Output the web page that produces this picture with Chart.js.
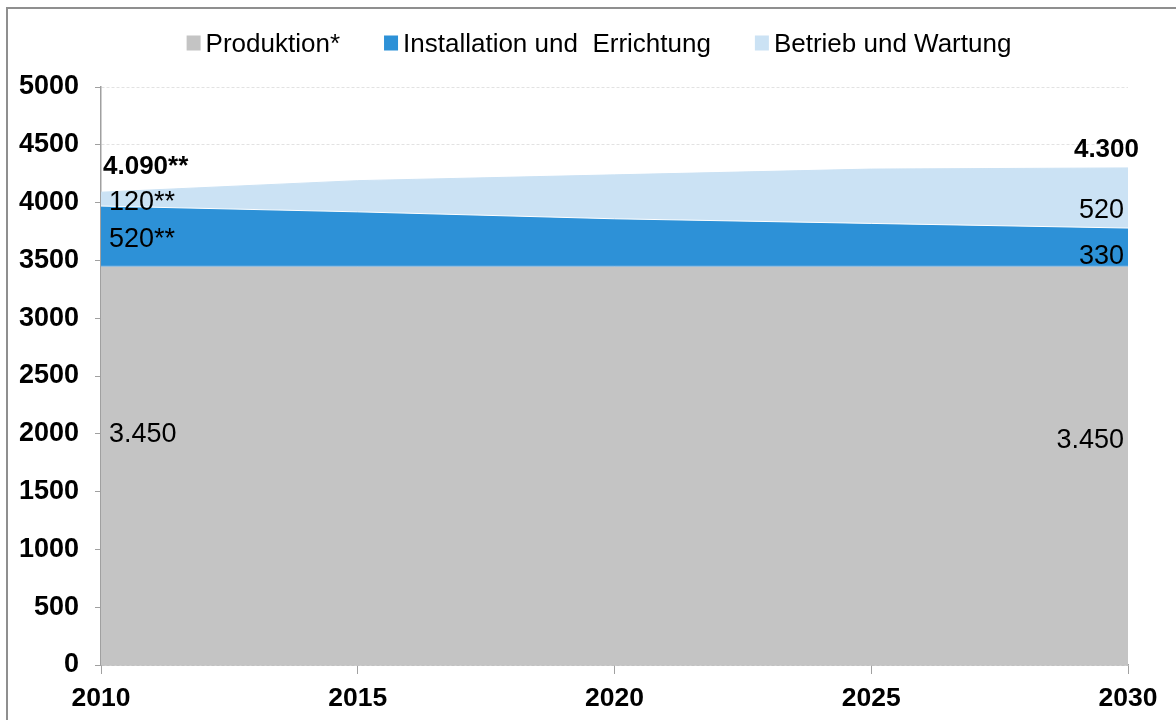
<!DOCTYPE html>
<html lang="de">
<head>
<meta charset="utf-8">
<title>Beschäftigung 2010–2030</title>
<script src="https://cdn.jsdelivr.net/npm/chart.js@4.4.1/dist/chart.umd.min.js"></script>
<style>
  html, body { margin: 0; padding: 0; background: #fff; }
  #wrap { width: 1176px; height: 720px; }
</style>
</head>
<body>
<div id="wrap"><canvas id="chart" width="1176" height="720"></canvas></div>
<script>
// ── Data ───────────────────────────────────────────────────────────────────
const YEARS        = ["2010", "2015", "2020", "2025", "2030"];
const PRODUKTION   = [3450, 3450, 3450, 3450, 3450];
const INSTALLATION = [520, 470, 410, 370, 330];
const BETRIEB      = [120, 270, 380, 470, 520];
const SERIES_NAMES = ["Produktion*", "Installation und  Errichtung", "Betrieb und Wartung"];
const FOOTNOTE     = ["**", "", "", "", ""];   // suffix per year on the value labels
const LABELLED     = [0, 4];                   // year indices that carry value labels
const Y_MIN = 0, Y_MAX = 5000, Y_STEP = 500;

// ── Style ──────────────────────────────────────────────────────────────────
const FONT = "'Liberation Sans', Arial, Helvetica, sans-serif";
const COLORS = ["#c4c4c4", "#2d91d7", "#cbe2f4"];
const EDGE   = ["#7fb6e2", "#ffffff", "#cbe2f4"];
const AXIS_GREY = "#a0a0a0";

// label placement relative to the stacked points (px)
const LABEL_POS = {
  left:  { dx: 8,  totalDx: 2,  align: "left",  dy: [-33, 1.5, 1],  totalDy: -28 },
  right: { dx: -4, totalDx: 11, align: "right", dy: [-27, 7.5, 10], totalDy: -20.5 },
};

Chart.defaults.font.family = FONT;
Chart.defaults.color = "#000";

const fmt = v => v >= 1000
  ? Math.floor(v / 1000) + "." + String(v % 1000).padStart(3, "0")
  : String(v);

function textAt(ctx, str, x, centerY, size, bold, align) {
  ctx.font = `${bold ? "bold " : ""}${size}px ${FONT}`;
  ctx.textAlign = align;
  ctx.textBaseline = "alphabetic";
  ctx.fillText(str, x, centerY + size * 0.358);
}

// ── Plugins ────────────────────────────────────────────────────────────────

const frameAndLegend = {
  id: "frameAndLegend",
  afterDraw(chart) {
    const ctx = chart.ctx;
    ctx.save();
    // outer frame (runs off the right and bottom edge in the original)
    ctx.strokeStyle = "#8f8f8f";
    ctx.lineWidth = 2;
    ctx.strokeRect(7, 8, chart.width + 40, chart.height + 40);

    // legend
    const size = 26, box = 14, gap = 19, spacing = 44, cy = 43;
    ctx.font = `${size}px ${FONT}`;
    const widths = chart.data.datasets.map(d => ctx.measureText(d.label).width);
    const total = widths.reduce((a, b) => a + b, 0) + widths.length * gap + (widths.length - 1) * spacing;
    let x = 599 - total / 2;
    chart.data.datasets.forEach((d, i) => {
      ctx.fillStyle = d.backgroundColor;
      ctx.fillRect(x, cy - 7.5, box, 15);
      ctx.fillStyle = "#000";
      textAt(ctx, d.label, x + gap, cy, size, false, "left");
      x += gap + widths[i] + spacing;
    });
    ctx.restore();
  },
};

const valueLabels = {
  id: "valueLabels",
  afterDatasetsDraw(chart) {
    const ctx = chart.ctx;
    const series = [PRODUKTION, INSTALLATION, BETRIEB];
    const base = chart.scales.y.getPixelForValue(0);
    ctx.save();
    ctx.fillStyle = "#000";
    LABELLED.forEach(j => {
      const pos = j === 0 ? LABEL_POS.left : LABEL_POS.right;
      let prevY = base, sum = 0, x = 0, topY = 0;
      series.forEach((vals, i) => {
        const pt = chart.getDatasetMeta(i).data[j];
        const mid = (prevY + pt.y) / 2 + pos.dy[i];
        textAt(ctx, fmt(vals[j]) + (i > 0 ? FOOTNOTE[j] : ""), pt.x + pos.dx, mid, 27, false, pos.align);
        prevY = pt.y; topY = pt.y; x = pt.x;
        sum += vals[j];
      });
      textAt(ctx, fmt(sum) + FOOTNOTE[j], x + pos.totalDx, topY + pos.totalDy, 26, true, pos.align);
    });
    ctx.restore();
  },
};

// ── Chart ──────────────────────────────────────────────────────────────────

const datasets = [PRODUKTION, INSTALLATION, BETRIEB].map((vals, i) => ({
  label: SERIES_NAMES[i],
  data: vals,
  backgroundColor: COLORS[i],
  borderColor: EDGE[i],
  borderWidth: 1,
  fill: i === 0 ? "origin" : "-1",
  pointRadius: 0,
  tension: 0,
}));

new Chart(document.getElementById("chart"), {
  type: "line",
  data: { labels: YEARS, datasets },
  options: {
    responsive: false,
    animation: false,
    layout: { padding: { top: 87, right: 48, left: 0, bottom: 0 } },
    plugins: { legend: { display: false }, tooltip: { enabled: false } },
    scales: {
      x: {
        offset: false,
        afterFit: s => { s.height = 55; },
        grid: { drawOnChartArea: false, tickLength: 9, tickColor: AXIS_GREY, color: AXIS_GREY },
        border: { color: AXIS_GREY, width: 1.5 },
        ticks: { font: { size: 26.5, weight: "bold" }, padding: 9, maxRotation: 0 },
      },
      y: {
        stacked: true,
        min: Y_MIN, max: Y_MAX,
        afterFit: s => { s.width = 101; },
        grid: { color: "#e2e2e2", tickLength: 6, tickColor: AXIS_GREY, tickBorderDash: [] },
        border: { color: AXIS_GREY, width: 1.5, dash: [3, 2] },
        ticks: {
          stepSize: Y_STEP,
          padding: 16,
          font: { size: 27, weight: "bold" },
          callback: v => String(v),
        },
      },
    },
  },
  plugins: [valueLabels, frameAndLegend],
});
</script>
</body>
</html>
